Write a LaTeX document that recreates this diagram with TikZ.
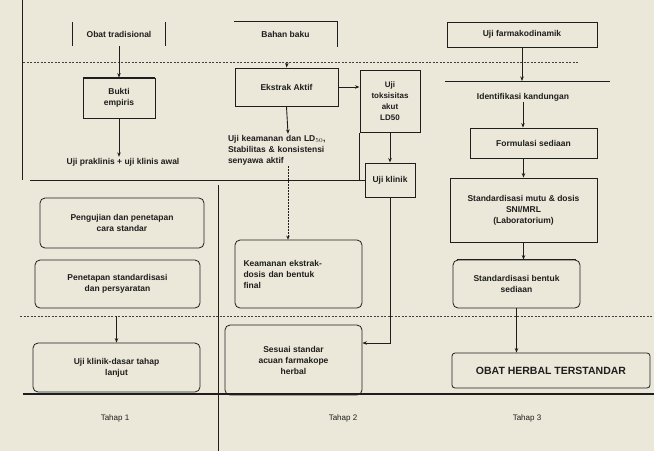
\documentclass[tikz,border=0pt]{standalone}
\usepackage{fontspec}
\setmainfont{Liberation Sans}
\usetikzlibrary{arrows.meta}
\definecolor{paper}{HTML}{ECE8D9}
\definecolor{ink}{HTML}{1E1E1E}
\newcommand{\ft}{\fontsize{8.5}{11}\selectfont\bfseries}
\tikzset{
  box/.style={draw=ink, line width=0.8pt, inner sep=2pt, align=center, font=\ft, text=ink},
  rbox/.style={box, rounded corners=5pt},
  plain/.style={inner sep=1pt, align=center, font=\ft, text=ink},
  tahap/.style={inner sep=1pt, font=\fontsize{8}{10}\selectfont, text=ink},
  arr/.style={draw=ink, -{Stealth[length=4.5pt,width=3.5pt]}, line width=0.9pt},
  rule/.style={draw=ink, line width=1pt},
  dline/.style={draw=ink!85, line width=0.8pt, dash pattern=on 2pt off 1.5pt}
}
\begin{document}
\begin{tikzpicture}[x=1pt,y=-1pt]
\fill[paper] (0,0) rectangle (654,451);
\useasboundingbox (0,0) rectangle (654,451);

% frame lines
\coordinate (vl1) at (22,0);
\coordinate (vl1b) at (22,180);
\draw[draw=ink, line width=0.7pt] (vl1) -- (vl1b);
\coordinate (vl2) at (218,185);
\coordinate (vl2b) at (218,451);
\draw[draw=ink, line width=0.7pt] (vl2) -- (vl2b);
\coordinate (d1a) at (23,62);
\coordinate (d1b) at (578,62);
\draw[dline] (d1a) -- (d1b);
\coordinate (d2a) at (20,316);
\coordinate (d2b) at (654,316);
\draw[dline] (d2a) -- (d2b);
\coordinate (bl1) at (23,394);
\coordinate (bl2) at (654,394);
\draw[rule, line width=1.4pt] (bl1) -- (bl2);

% ---------- Tahap 1 ----------
\node[plain, minimum width=93pt, minimum height=24pt] (a1) at (119,34) {Obat tradisional};
\draw[rule, line width=1.2pt] (a1.north west) -- (a1.south west);
\draw[rule, line width=1.2pt] (a1.north east) -- (a1.south east);
\node[box, minimum width=72pt, minimum height=40pt] (a2) at (119,98) {Bukti\\empiris};
\draw[rule, line width=1.4pt] (a2.north west) -- (a2.north east);
\node[plain] (a3) at (123,162) {Uji praklinis + uji klinis awal};
\draw[arr] (a1.south) -- (a2.north);
\draw[arr] (a2.south) -- (a2.south |- a3.north);
\node[rbox, minimum width=164pt, minimum height=50pt] (a4) at (122,223) {Pengujian dan penetapan\\cara standar};
\node[rbox, minimum width=165pt, minimum height=48pt] (a5) at (117.5,284) {Penetapan standardisasi\\dan persyaratan};
\node[rbox, minimum width=167pt, minimum height=49pt] (a6) at (116.5,367.5) {Uji klinik-dasar tahap\\lanjut};
\coordinate (a6t) at (116.5,316);
\draw[arr] (a6t) -- (a6.north);
\node[tahap] (t1) at (115,418) {Tahap 1};

% ---------- Tahap 2 ----------
\node[plain, minimum width=103pt, minimum height=25pt] (b1) at (285.5,34.5) {Bahan baku};
\draw[rule] (b1.north west) -- (b1.north east) -- (b1.south east);
\node[box, minimum width=103pt, minimum height=38pt, line width=1pt] (b2) at (286.5,87) {Ekstrak Aktif};
\coordinate (b2t) at (287,62);
\draw[arr] (b2t) -- (b2.north);
\node[box, minimum width=60pt, minimum height=62pt, line width=1pt, font=\fontsize{8}{11}\selectfont\bfseries] (b3) at (390,101) {Uji\\toksisitas\\akut\\LD50};
\draw[arr] (b2.east) -- (b3.west |- b2.east);
\node[plain, align=left, text width=120pt] (b4) at (288,150) {Uji keamanan dan LD$_{50}$,\\Stabilitas \& konsistensi\\senyawa aktif};
\draw[arr] (b2.south) -- (b4.north);
\node[box, minimum width=50pt, minimum height=34pt, line width=1pt] (b5) at (390,180) {Uji klinik};
\draw[arr] (b3.south) -- (b5.north);
\draw[draw=ink, line width=0.7pt] (b3.south west) -- (b3.south west |- b5.west);
\coordinate (c0) at (30,180);
\draw[rule] (c0) -- (b5.west);
\node[rbox, minimum width=127pt, minimum height=68pt, align=left, text width=110pt] (b6) at (298.5,274) {Keamanan ekstrak-\\dosis dan bentuk\\final};
\draw[draw=ink, line width=0.7pt, dash pattern=on 1.5pt off 1.5pt, -{Stealth[length=4pt,width=3.5pt]}] (b4.south) -- (b4.south |- b6.north);
\node[rbox, minimum width=137pt, minimum height=70pt] (b7) at (293.5,360) {Sesuai standar\\acuan farmakope\\herbal};
\draw[arr] (b5.south) |- ([yshift=17pt]b7.east);
\node[tahap] (t2) at (343,418) {Tahap 2};

% ---------- Tahap 3 ----------
\node[box, minimum width=150pt, minimum height=25pt] (c1) at (522,34.5) {Uji farmakodinamik};
\coordinate (l1) at (445,81);
\coordinate (l2) at (610,81);
\draw[rule] (l1) -- (l2);
\draw[arr] (c1.south) -- (c1.south |- l1);
\node[plain] (c2) at (523,97) {Identifikasi kandungan};
\node[box, minimum width=127pt, minimum height=30pt] (c3) at (533.5,143) {Formulasi sediaan};
\draw[arr] (c2.south) -- (c2.south |- c3.north);
\node[box, minimum width=147pt, minimum height=64pt] (c4) at (523.5,210) {Standardisasi mutu \& dosis\\SNI/MRL\\(Laboratorium)};
\draw[arr] (c4.north |- c3.south) -- (c4.north);
\node[rbox, minimum width=127pt, minimum height=48pt] (c5) at (516.5,284) {Standardisasi bentuk\\sediaan};
\draw[rule, line width=1.4pt] ([xshift=4pt]c5.north west) -- ([xshift=-4pt]c5.north east);
\draw[arr] (c4.south) -- (c4.south |- c5.north);
\node[rbox, rounded corners=3pt, minimum width=198pt, minimum height=35pt, font=\fontsize{10.5}{12}\selectfont\bfseries] (c6) at (551,370.5) {OBAT HERBAL TERSTANDAR};
\draw[arr] (c5.south) -- (c5.south |- c6.north);
\node[tahap] (t3) at (527,418) {Tahap 3};
\end{tikzpicture}
\end{document}
